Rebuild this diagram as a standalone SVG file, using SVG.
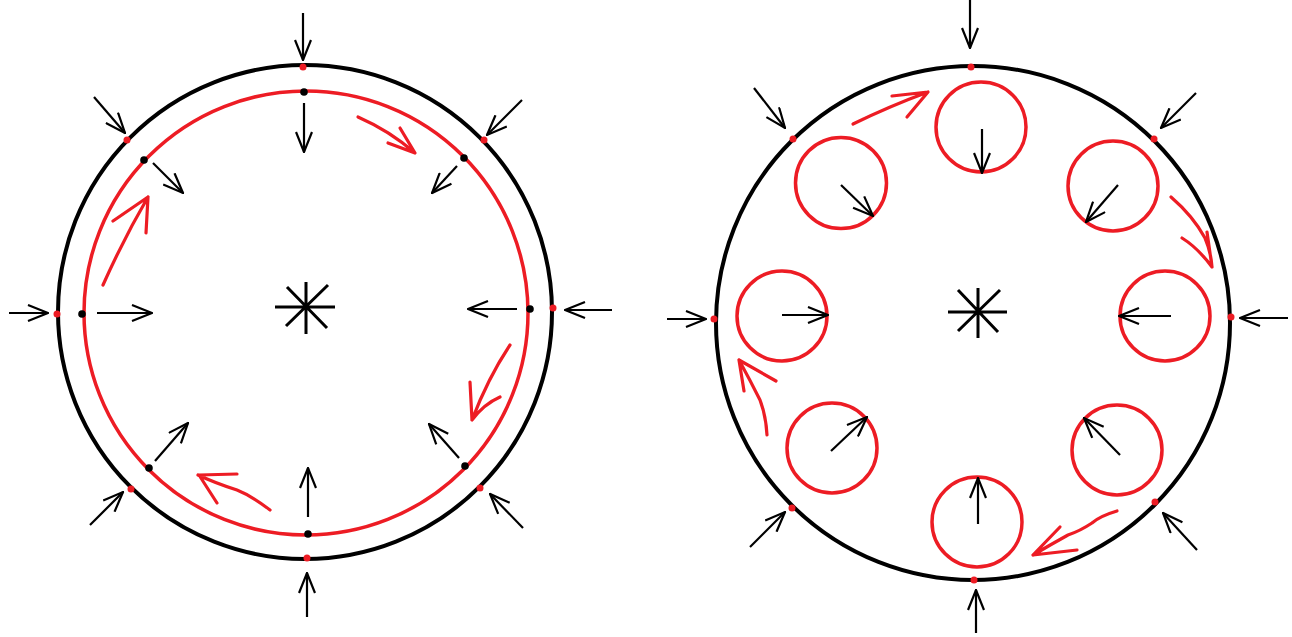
<svg xmlns="http://www.w3.org/2000/svg" width="1292" height="637" viewBox="0 0 1292 637">
<style>
.bk{fill:none;stroke:#000;stroke-width:4}
.rc{fill:none;stroke:#ed1c24;stroke-width:3.5}
.ar{fill:none;stroke:#000;stroke-width:2.2;marker-end:url(#ah)}
.ast{fill:none;stroke:#000;stroke-width:3}
.rh{fill:none;stroke:#ed1c24;stroke-width:3.2;stroke-linecap:round;stroke-linejoin:round}
.rd{fill:#ed1c24}
.bd{fill:#000}
</style>
<defs>
<marker id="ah" markerUnits="userSpaceOnUse" viewBox="0 0 22 18" refX="21" refY="9" markerWidth="22" markerHeight="18" orient="auto">
<path d="M1,1 L21,9 L1,17" fill="none" stroke="#000" stroke-width="2.2"/>
</marker>
</defs>
<rect width="1292" height="637" fill="#fff"/>

<g id="left">
<circle class="bk" cx="305" cy="312" r="247"/>
<circle class="rc" cx="306" cy="313" r="222"/>
<g id="left-asterisk" class="ast">
<path d="M275,307 H335 M306,282 V334 M287,287 L327,328 M328,285 L286,326"/>
</g>
<g id="left-outer-dots" class="rd">
<circle cx="303" cy="67" r="3.5"/><circle cx="127" cy="140" r="3.5"/><circle cx="57" cy="314" r="3.5"/><circle cx="131" cy="489" r="3.5"/>
<circle cx="307" cy="558" r="3.5"/><circle cx="480" cy="488" r="3.5"/><circle cx="553" cy="308" r="3.5"/><circle cx="484" cy="140" r="3.5"/>
</g>
<g id="left-inner-dots" class="bd">
<circle cx="304" cy="92" r="3.8"/><circle cx="144" cy="160" r="3.8"/><circle cx="82" cy="314" r="3.8"/><circle cx="149" cy="468" r="3.8"/>
<circle cx="308" cy="534" r="3.8"/><circle cx="465" cy="466" r="3.8"/><circle cx="530" cy="309" r="3.8"/><circle cx="464" cy="158" r="3.8"/>
</g>
<g id="left-red-arrows" class="rh">
<path d="M103,285 Q124,238 148,197 M113,221 L148,197 L146,233"/>
<path d="M358,117 Q390,131 415,153 M400,128 L415,153 L388,143"/>
<path d="M510,345 Q488,378 472,420 M470,382 L472,420 M500,397 Q484,404 472,420"/>
<path d="M270,510 Q252,496 237,490 Q215,483 198,475 M237,474 L199,475 L217,503"/>
</g>
</g>

<g id="right">
<circle class="bk" cx="973" cy="323" r="257"/>
<g id="small-circles" class="rc">
<circle cx="981" cy="127" r="45"/>
<circle cx="841" cy="183" r="45.5"/>
<circle cx="1113" cy="186" r="45"/>
<circle cx="782" cy="316" r="45"/>
<circle cx="1165" cy="316" r="45"/>
<circle cx="832" cy="448" r="45"/>
<circle cx="1117" cy="450" r="45"/>
<circle cx="977" cy="522" r="45"/>
</g>
<g id="right-asterisk" class="ast">
<path d="M948,312 H1007 M978,288 V338 M958,290 L998,332 M1000,290 L958,331"/>
</g>
<g id="right-dots" class="rd">
<circle cx="971" cy="67" r="3.5"/><circle cx="793" cy="139" r="3.5"/><circle cx="714" cy="319" r="3.5"/><circle cx="792" cy="508" r="3.5"/>
<circle cx="974" cy="580" r="3.5"/><circle cx="1155" cy="502" r="3.5"/><circle cx="1231" cy="317" r="3.5"/><circle cx="1154" cy="139" r="3.5"/>
</g>
<g id="right-red-arrows" class="rh">
<path d="M853,124 Q890,106 928,92 M892,96 L928,92 L907,117"/>
<path d="M1171,197 Q1193,216 1205,238 Q1211,252 1212,267 M1207,232 L1212,267 M1182,238 Q1198,248 1212,267"/>
<path d="M1117,511 Q1100,516 1092,523 Q1080,531 1068,535 Q1050,545 1033,555 M1060,527 L1033,555 L1077,550"/>
<path d="M767,435 Q766,416 760,400 Q750,380 739,360 M776,381 L739,360 L744,391"/>
</g>
</g>

<g id="connectors">
<line class="ar" x1="303" y1="13" x2="303" y2="60"/>
<line class="ar" x1="94" y1="97" x2="125" y2="133"/>
<line class="ar" x1="9" y1="313" x2="48" y2="313"/>
<line class="ar" x1="307" y1="617" x2="307" y2="573"/>
<line class="ar" x1="90" y1="525" x2="123" y2="492"/>
<line class="ar" x1="612" y1="310" x2="565" y2="310"/>
<line class="ar" x1="522" y1="100" x2="487" y2="135"/>
<line class="ar" x1="523" y1="528" x2="490" y2="494"/>

<line class="ar" x1="304" y1="103" x2="304" y2="152"/>
<line class="ar" x1="153" y1="163" x2="183" y2="193"/>
<line class="ar" x1="97" y1="313" x2="152" y2="313"/>
<line class="ar" x1="155" y1="461" x2="188" y2="423"/>
<line class="ar" x1="308" y1="517" x2="308" y2="468"/>
<line class="ar" x1="459" y1="458" x2="429" y2="424"/>
<line class="ar" x1="517" y1="309" x2="468" y2="309"/>
<line class="ar" x1="457" y1="166" x2="432" y2="193"/>

<line class="ar" x1="970" y1="0" x2="970" y2="48"/>
<line class="ar" x1="754" y1="88" x2="785" y2="128"/>
<line class="ar" x1="667" y1="319" x2="706" y2="319"/>
<line class="ar" x1="1288" y1="318" x2="1240" y2="318"/>
<line class="ar" x1="750" y1="547" x2="785" y2="512"/>
<line class="ar" x1="1197" y1="550" x2="1163" y2="513"/>
<line class="ar" x1="1196" y1="93" x2="1161" y2="128"/>
<line class="ar" x1="976" y1="633" x2="976" y2="590"/>

<line class="ar" x1="982" y1="129" x2="982" y2="173"/>
<line class="ar" x1="841" y1="185" x2="873" y2="216"/>
<line class="ar" x1="1118" y1="185" x2="1086" y2="222"/>
<line class="ar" x1="782" y1="315" x2="828" y2="315"/>
<line class="ar" x1="1171" y1="316" x2="1119" y2="316"/>
<line class="ar" x1="831" y1="451" x2="867" y2="417"/>
<line class="ar" x1="1120" y1="455" x2="1084" y2="418"/>
<line class="ar" x1="978" y1="524" x2="978" y2="478"/>
</g>
</svg>
